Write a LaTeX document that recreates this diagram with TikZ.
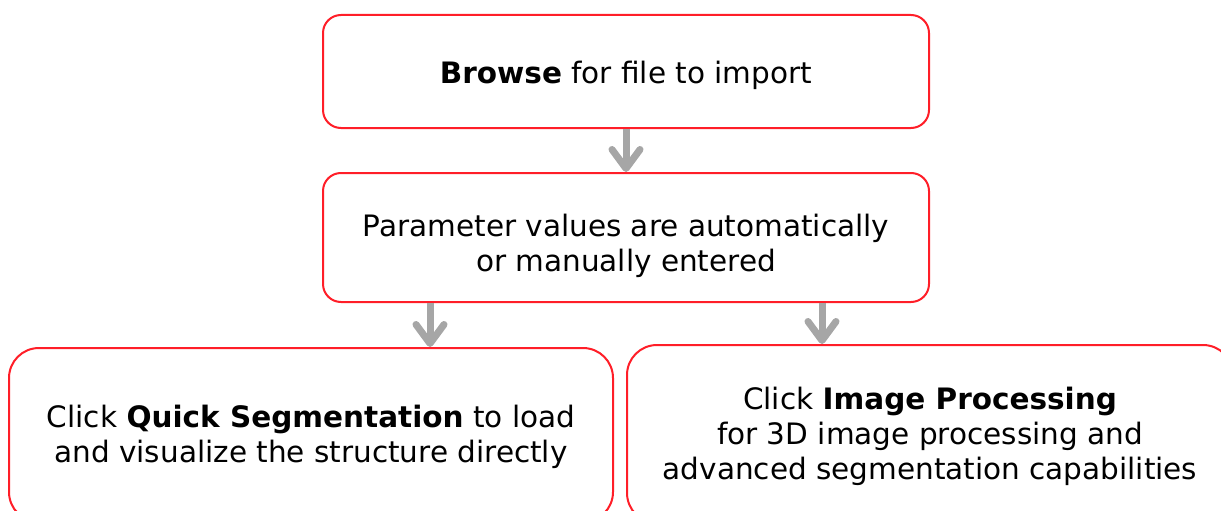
\documentclass[tikz,border=0pt]{standalone}
\usepackage{fontspec}
\setmainfont{DejaVu Sans}
\usetikzlibrary{arrows.meta}
\definecolor{boxred}{RGB}{255,30,40}
\definecolor{arrowgray}{RGB}{166,166,166}
\newcommand{\topgap}[1]{\rule{0pt}{\dimexpr 22.4pt+#1\relax}}
\tikzstyle{stepbox}=[draw=boxred,line width=2pt,rounded corners=18pt,align=center,inner sep=0pt,font=\fontsize{29.5}{35}\selectfont]
\tikzstyle{flow}=[draw=arrowgray,line width=7pt,-{Straight Barb[length=19pt,width=28pt,round]}]
\begin{document}
\begin{tikzpicture}[x=1pt,y=-1pt]
	\useasboundingbox (0,0) rectangle (1221,511);
	\clip (0,0) rectangle (1221,511);
	\node [stepbox,minimum width=606pt,minimum height=113pt] (browse) at (626,71.5) {\topgap{8pt}\textbf{Browse} for file to import};
	\node [stepbox,minimum width=606pt,minimum height=129pt] (params) at (626,237.5) {\topgap{17pt}Parameter values are automatically\\or manually entered};
	\node [stepbox,rounded corners=30pt,minimum width=604pt,minimum height=174pt] (quick) at (311,435) {\topgap{4pt}Click \textbf{Quick Segmentation} to load\\and visualize the structure directly};
	\node [stepbox,rounded corners=30pt,minimum width=606pt,minimum height=178pt] (imgproc) at (930,434) {\topgap{5pt}Click \textbf{Image Processing}\\for 3D image processing and\\advanced segmentation capabilities};
	\coordinate (splitL) at (430,0);
	\coordinate (splitR) at (822,0);

	\draw [flow] (browse) -- (params);
	\draw [flow] (params.south -| splitL) -- (quick.north -| splitL);
	\draw [flow] (params.south -| splitR) -- (imgproc.north -| splitR);
\end{tikzpicture}
\end{document}
